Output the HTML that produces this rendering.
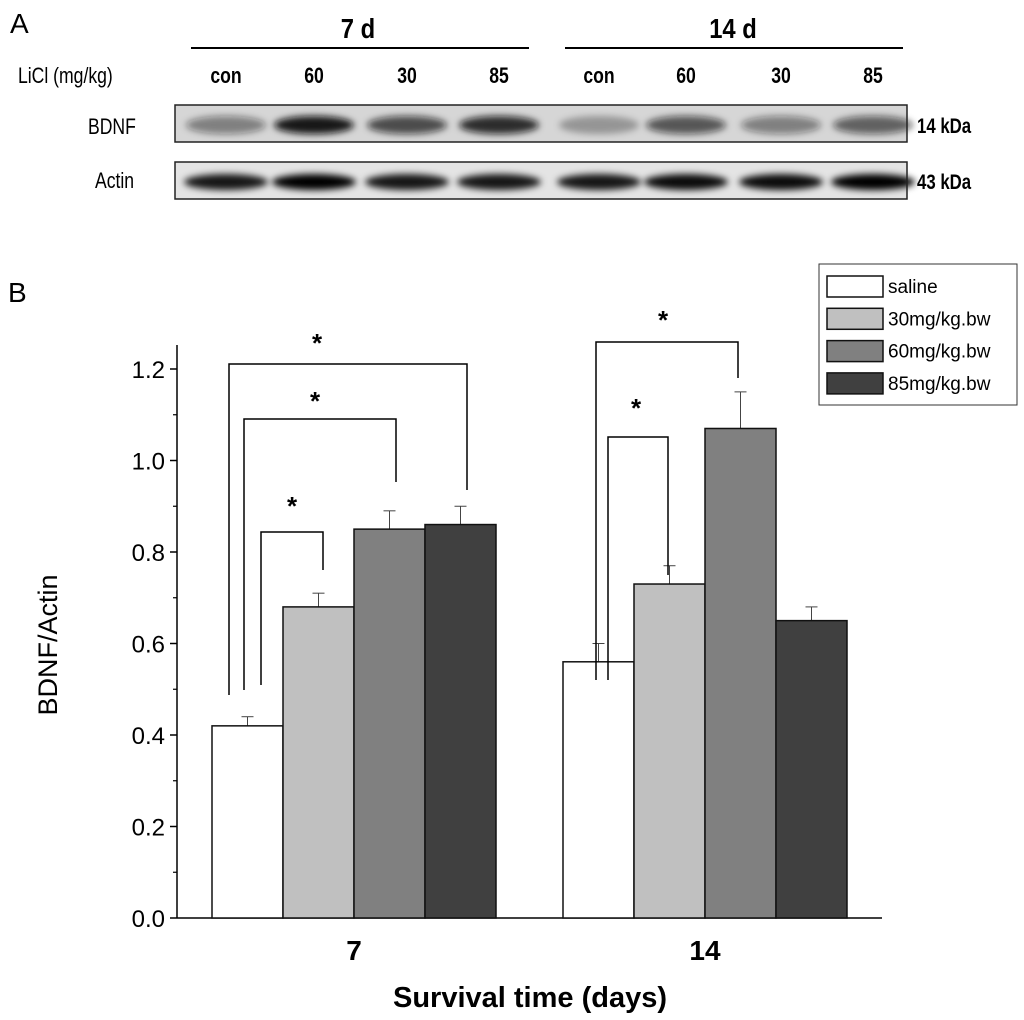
<!DOCTYPE html>
<html><head><meta charset="utf-8"><style>
body{margin:0;background:#fff;}
svg{display:block;font-family:"Liberation Sans",sans-serif;}
</style></head><body>
<svg id="fig" width="1024" height="1020" viewBox="0 0 1024 1020" xmlns="http://www.w3.org/2000/svg">
<defs>
<filter id="blur" x="-50%" y="-100%" width="200%" height="300%"><feGaussianBlur stdDeviation="3.5"/></filter>
</defs>
<g>
<text x="10" y="33" font-size="28">A</text>
<text x="358" y="38" font-size="28" font-weight="bold" text-anchor="middle" transform="translate(358,0) scale(0.85,1) translate(-358,0)">7 d</text>
<line x1="191" y1="48" x2="529" y2="48" stroke="#000" stroke-width="2"/>
<text x="733" y="38" font-size="28" font-weight="bold" text-anchor="middle" transform="translate(733,0) scale(0.85,1) translate(-733,0)">14 d</text>
<line x1="565" y1="48" x2="903" y2="48" stroke="#000" stroke-width="2"/>
<text x="18" y="83" font-size="22" transform="translate(18,0) scale(0.8,1) translate(-18,0)">LiCl (mg/kg)</text>
<g font-size="22" font-weight="bold" text-anchor="middle">
<text x="226" y="83" transform="translate(226,0) scale(0.8,1) translate(-226,0)">con</text><text x="314" y="83" transform="translate(314,0) scale(0.8,1) translate(-314,0)">60</text><text x="407" y="83" transform="translate(407,0) scale(0.8,1) translate(-407,0)">30</text><text x="499" y="83" transform="translate(499,0) scale(0.8,1) translate(-499,0)">85</text>
<text x="599" y="83" transform="translate(599,0) scale(0.8,1) translate(-599,0)">con</text><text x="686" y="83" transform="translate(686,0) scale(0.8,1) translate(-686,0)">60</text><text x="781" y="83" transform="translate(781,0) scale(0.8,1) translate(-781,0)">30</text><text x="873" y="83" transform="translate(873,0) scale(0.8,1) translate(-873,0)">85</text>
</g>
<text x="88" y="134" font-size="22" transform="translate(88,0) scale(0.8,1) translate(-88,0)">BDNF</text>
<text x="95" y="188" font-size="22" transform="translate(95,0) scale(0.8,1) translate(-95,0)">Actin</text>
<text x="917" y="133" font-size="21" font-weight="bold" transform="translate(917,0) scale(0.8,1) translate(-917,0)">14 kDa</text>
<text x="917" y="189" font-size="21" font-weight="bold" transform="translate(917,0) scale(0.8,1) translate(-917,0)">43 kDa</text>
<rect x="175" y="105" width="732" height="37" fill="#d6d6d6"/>
<rect x="175" y="162" width="732" height="37" fill="#e4e4e4"/>
<g id="bands" filter="url(#blur)"></g>
<rect x="175" y="105" width="732" height="37" fill="none" stroke="#222" stroke-width="1.5"/>
<rect x="175" y="162" width="732" height="37" fill="none" stroke="#222" stroke-width="1.5"/>
</g>
<g>
<text x="8" y="302" font-size="28">B</text>
<g id="chart"></g>
</g>
</svg>
<script>
const groups = ["7", "14"];
const series = ["saline", "30mg/kg.bw", "60mg/kg.bw", "85mg/kg.bw"];
const values7 = [0.42, 0.68, 0.85, 0.86];
const values14 = [0.56, 0.73, 1.07, 0.65];
const errors7 = [0.02, 0.03, 0.04, 0.04];
const errors14 = [0.04, 0.04, 0.08, 0.03];
const yTicks = ["0.0", "0.2", "0.4", "0.6", "0.8", "1.0", "1.2"];
const bdnfIntensity = [0.45, 0.95, 0.7, 0.85, 0.3, 0.65, 0.45, 0.6];
const actinIntensity = [0.9, 1.0, 0.9, 0.9, 0.9, 0.95, 0.95, 1.0];

const NS = "http://www.w3.org/2000/svg";
function mk(tag, attrs, parent) { const e = document.createElementNS(NS, tag); for (const k in attrs) e.setAttribute(k, attrs[k]); parent.appendChild(e); return e; }
const fills = ["#ffffff", "#c0c0c0", "#808080", "#404040"];
const y0 = 918, pxPerUnit = 457.5;
function yS(v) { return y0 - v * pxPerUnit; }
const groupStart = [212, 563], barW = 71;
function xS(g, s) { return groupStart[g] + s * barW; }

const bands = document.getElementById('bands');
const laneX = [226, 314, 407, 499, 599, 686, 781, 873];
bdnfIntensity.forEach((v, i) => {
  const e = mk('ellipse', {cx: laneX[i], cy: 125, rx: 40, ry: 9, fill: '#111', opacity: v}, bands);
  
  
});
actinIntensity.forEach((v, i) => {
  const e = mk('ellipse', {cx: laneX[i], cy: 182, rx: 42, ry: 8, fill: '#000', opacity: v}, bands);
  
  
});

const c = document.getElementById('chart');
let a = mk('line', {x1: 177, y1: 345, x2: 177, y2: y0, stroke: '#000', 'stroke-width': 1.5}, c);


a = mk('line', {x1: 177, y1: y0, x2: 882, y2: y0, stroke: '#000', 'stroke-width': 1.5}, c);


yTicks.forEach((t, i) => {
  const v = parseFloat(t), y = yS(v);
  let l = mk('line', {x1: 170, y1: y, x2: 177, y2: y, stroke: '#000', 'stroke-width': 1.5}, c);
  
  
  if (i < yTicks.length - 1) {
    const ym = yS(v + 0.1);
    let m = mk('line', {x1: 173, y1: ym, x2: 177, y2: ym, stroke: '#000', 'stroke-width': 1.2}, c);
    
    
  }
  const tx = mk('text', {x: 165, y: y + 9, 'font-size': 24, 'text-anchor': 'end'}, c);
  tx.textContent = t;
  
  
});
let yt = mk('text', {x: 0, y: 0, 'font-size': 27, 'text-anchor': 'middle', transform: 'translate(57,645) rotate(-90)'}, c);
yt.textContent = 'BDNF/Actin';


let xt = mk('text', {x: 530, y: 1007, 'font-size': 29, 'font-weight': 'bold', 'text-anchor': 'middle'}, c);
xt.textContent = 'Survival time (days)';



const allVals = [values7, values14], allErr = [errors7, errors14];
groups.forEach((gname, g) => {
  const gl = mk('text', {x: groupStart[g] + 2 * barW, y: 960, 'font-size': 28, 'font-weight': 'bold', 'text-anchor': 'middle'}, c);
  gl.textContent = gname;
  
  
  series.forEach((s, i) => {
    const v = allVals[g][i], e = allErr[g][i], x = xS(g, i);
    const cx = x + barW / 2;
    const el = mk('line', {x1: cx, y1: yS(v), x2: cx, y2: yS(v + e), stroke: '#444', 'stroke-width': 1}, c);
    
    
    const ec = mk('line', {x1: cx - 6, y1: yS(v + e), x2: cx + 6, y2: yS(v + e), stroke: '#444', 'stroke-width': 1}, c);
    
    
    const r = mk('rect', {x: x, y: yS(v), width: barW, height: y0 - yS(v), fill: fills[i], stroke: '#111', 'stroke-width': 1.5}, c);
    
    
  });
});

function bracket(x1, yL, x2, yR, yTop, sx, sy) {
  const p = mk('polyline', {points: `${x1},${yL} ${x1},${yTop} ${x2},${yTop} ${x2},${yR}`, fill: 'none', stroke: '#000', 'stroke-width': 1.5}, c);
  
  
  const t = mk('text', {x: sx, y: sy, 'font-size': 26, 'font-weight': 'bold', 'text-anchor': 'middle'}, c);
  t.textContent = '*';
  
  
}
bracket(229, 695, 467, 490, 364, 317, 352);
bracket(244, 690, 396, 482, 419, 315, 410);
bracket(261, 685, 323, 570, 532, 292, 515);
bracket(596, 680, 738, 378, 342, 663, 329);
bracket(608, 680, 668, 575, 437, 636, 417);

const lg = mk('g', {}, c);


const lb = mk('rect', {x: 819, y: 264, width: 198, height: 141, fill: '#fff', stroke: '#333', 'stroke-width': 1}, lg);


series.forEach((s, i) => {
  const yy = 276 + i * 32.3;
  const sw = mk('rect', {x: 827, y: yy, width: 56, height: 21, fill: fills[i], stroke: '#111', 'stroke-width': 1.5}, lg);
  
  
  const t = mk('text', {x: 888, y: yy + 17, 'font-size': 19}, lg);
  t.textContent = s;
  
  
});
</script>
</body></html>
